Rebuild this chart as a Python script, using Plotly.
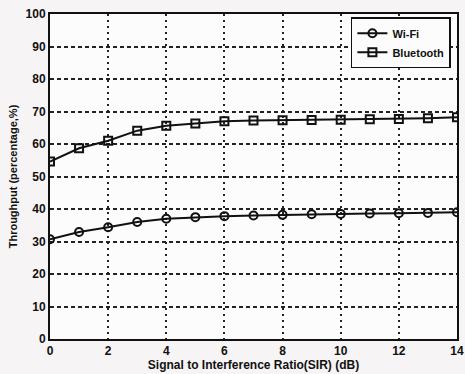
import plotly.graph_objects as go

# SIR values (dB) and throughput (%) for each technology
sir_db = [0, 1, 2, 3, 4, 5, 6, 7, 8, 9, 10, 11, 12, 13, 14]
wifi_tp = [30.7, 32.9, 34.4, 36.0, 37.0, 37.5, 37.8, 38.0, 38.2, 38.4, 38.5, 38.6, 38.7, 38.8, 39.0]
bt_tp = [54.6, 58.7, 61.0, 64.1, 65.6, 66.3, 67.0, 67.2, 67.3, 67.4, 67.5, 67.6, 67.7, 67.9, 68.2]

x_ticks = [0, 2, 4, 6, 8, 10, 12, 14]
y_ticks = [0, 10, 20, 30, 40, 50, 60, 70, 80, 90, 100]

FONT = "Liberation Sans, Arial, sans-serif"

fig = go.Figure()
fig.add_trace(go.Scatter(
    x=sir_db, y=wifi_tp, name="<b>Wi-Fi</b>", mode="lines+markers",
    line=dict(color="#111", width=2),
    marker=dict(symbol="circle-open", size=8, color="#111", line=dict(width=2)),
))
fig.add_trace(go.Scatter(
    x=sir_db, y=bt_tp, name="<b>Bluetooth</b>", mode="lines+markers",
    line=dict(color="#111", width=2),
    marker=dict(symbol="square-open", size=8, color="#111", line=dict(width=2)),
))

axis_common = dict(
    showline=True, linecolor="#111", linewidth=2, mirror=True,
    showgrid=True, gridcolor="#222", gridwidth=1.5,
    zeroline=False, ticks="", automargin=False, ticklabeloverflow="allow",
    tickfont=dict(family=FONT, size=12, color="#111"),
)

fig.update_xaxes(
    range=[0, 14], tickvals=x_ticks, ticktext=[f"<b>{v}</b>" for v in x_ticks],
    griddash="2px,4px",
    title=dict(text="<b>Signal to Interference Ratio(SIR) (dB)</b>",
               font=dict(family=FONT, size=12, color="#111"), standoff=2),
    **axis_common,
)
fig.update_yaxes(
    range=[0, 100], tickvals=y_ticks, ticktext=[f"<b>{v}</b>" for v in y_ticks],
    griddash="4px,3px",
    title=dict(text="<b>Throughput (percentage,%)</b>",
               font=dict(family=FONT, size=11, color="#111"), standoff=6),
    **axis_common,
)

fig.update_layout(
    width=465, height=374,
    margin=dict(l=50, r=8, t=14, b=35),
    paper_bgcolor="#f6f4f5",
    plot_bgcolor="#fcfcfc",
    showlegend=True,
    legend=dict(
        x=0.985, y=0.99, xanchor="right", yanchor="top",
        bgcolor="#fcfcfc", bordercolor="#111", borderwidth=1.5,
        font=dict(family=FONT, size=11, color="#111"),
        itemwidth=30, tracegroupgap=0,
    ),
)

fig.write_html("out.html")
